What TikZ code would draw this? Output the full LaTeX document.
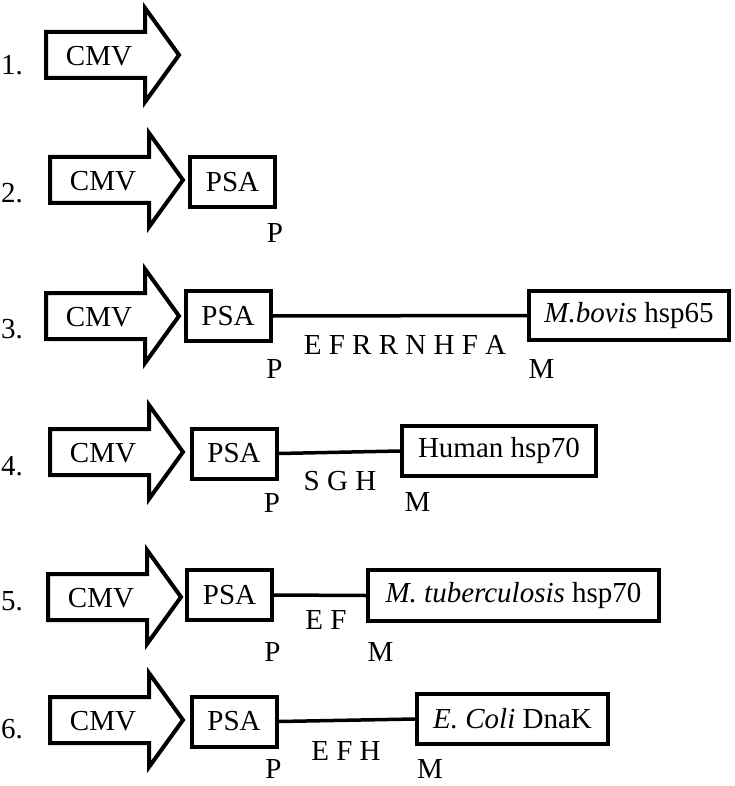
\documentclass[tikz,border=0pt]{standalone}
\usepackage{fontspec}
\setmainfont{Liberation Serif}
\usetikzlibrary{positioning}

% CMV promoter arrow: name, tail x, centre y
\newcommand{\cmvarrow}[3]{%
  \draw[promoter] (#2+2,#3-23) -- (#2+101,#3-23) -- (#2+101,#3-47) -- (#2+135,#3)
    -- (#2+101,#3+47) -- (#2+101,#3+23) -- (#2+2,#3+23) -- cycle;
  \node (#1) at (#2+55,#3+1) {CMV};
}

\begin{document}
\begin{tikzpicture}[
    x=1pt, y=-1pt,
    every node/.style={font=\fontsize{29}{33}\selectfont},
    promoter/.style={draw, line width=4pt, line join=miter},
    insert/.style={rectangle, draw, line width=4pt, minimum width=85pt, minimum height=50pt, inner sep=0pt},
    link/.style={line width=3.5pt},
    site/.style={anchor=base, inner sep=0pt},
    seq/.style={anchor=base, inner sep=0pt},
    rownum/.style={anchor=base, inner sep=0pt}
]
    \useasboundingbox (0,0) rectangle (734,786);

    % Construct 1: CMV only
    \node[rownum] (n1) at (12,75) {1.};
    \cmvarrow{cmv1}{44}{55}

    % Construct 2: CMV-PSA
    \node[rownum] (n2) at (12,203) {2.};
    \cmvarrow{cmv2}{48}{180}
    \node[insert] (psa2) at (232.5,182) {PSA};
    \node[site] (p2) at (275,242) {P};

    % Construct 3: PSA - M.bovis hsp65
    \node[rownum] (n3) at (12,338) {3.};
    \cmvarrow{cmv3}{44}{316}
    \node[insert] (psa3) at (228,316) {PSA};
    \node[insert, minimum width=200pt, minimum height=49pt] (hsp65) at (629,315.5) {\textit{M.bovis} hsp65};
    \draw[link] (psa3.east) -- (hsp65.west);
    \node[seq] (seq3) at (405,354) {E F R R N H F A};
    \node[site] (p3) at (274.5,378) {P};
    \node[site] (m3) at (541.5,378) {M};

    % Construct 4: PSA - Human hsp70
    \node[rownum] (n4) at (12,475) {4.};
    \cmvarrow{cmv4}{48}{452}
    \node[insert] (psa4) at (234,453.5) {PSA};
    \node[insert, minimum width=194pt] (hhsp70) at (499,451) {Human hsp70};
    \draw[link] (psa4.east) -- (hhsp70.west);
    \node[seq] (seq4) at (340,490) {S G H};
    \node[site] (p4) at (272,512) {P};
    \node[site] (m4) at (417.5,511) {M};

    % Construct 5: PSA - M. tuberculosis hsp70
    \node[rownum] (n5) at (12,610) {5.};
    \cmvarrow{cmv5}{46}{597}
    \node[insert] (psa5) at (229.5,595) {PSA};
    \node[insert, minimum width=291pt, minimum height=51pt] (mhsp70) at (513.5,595.5) {\textit{M. tuberculosis} hsp70};
    \draw[link] (psa5.east) -- (mhsp70.west);
    \node[seq] (seq5) at (326,629) {E F};
    \node[site] (p5) at (272.5,661) {P};
    \node[site] (m5) at (380.5,661) {M};

    % Construct 6: PSA - E. Coli DnaK
    \node[rownum] (n6) at (12,738) {6.};
    \cmvarrow{cmv6}{48}{720}
    \node[insert] (psa6) at (234,721.5) {PSA};
    \node[insert, minimum width=191pt] (dnak) at (512.5,719) {\textit{E. Coli} DnaK};
    \draw[link] (psa6.east) -- (dnak.west);
    \node[seq] (seq6) at (346,760) {E F H};
    \node[site] (p6) at (273.5,778) {P};
    \node[site] (m6) at (430,778) {M};
\end{tikzpicture}
\end{document}
